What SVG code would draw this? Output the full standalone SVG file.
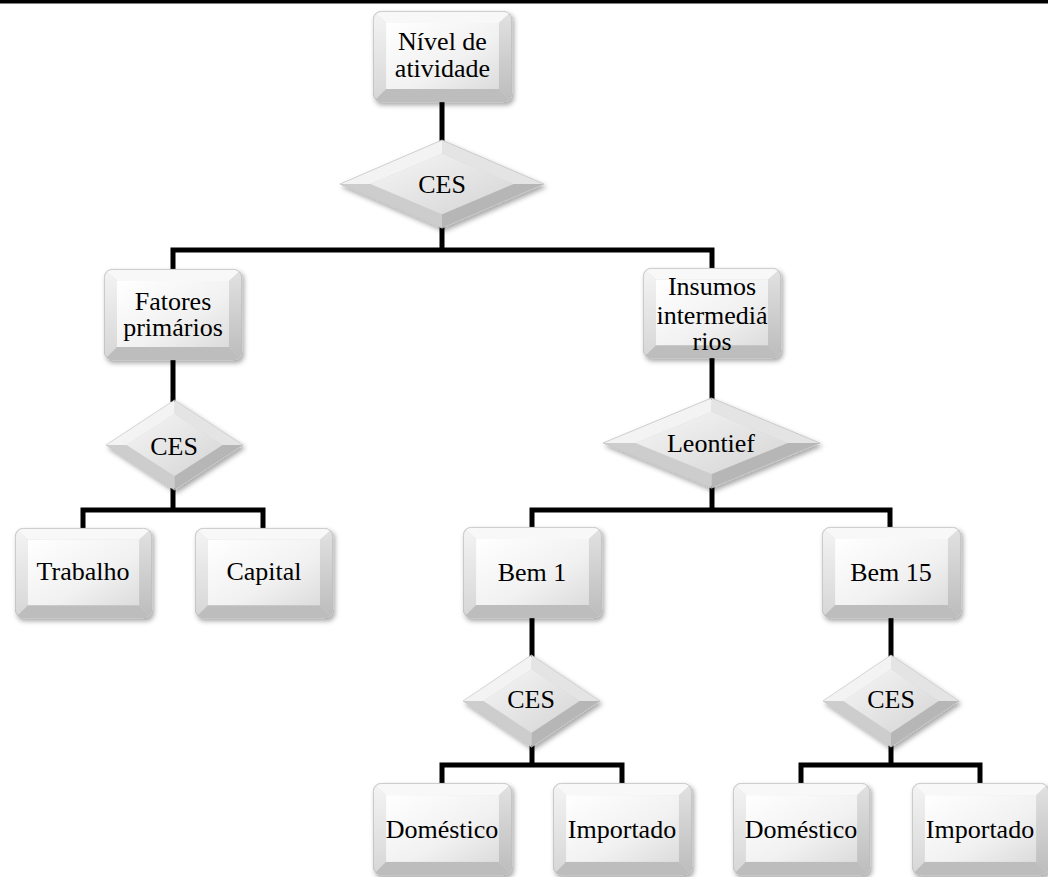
<svg xmlns="http://www.w3.org/2000/svg" xmlns:xlink="http://www.w3.org/1999/xlink" width="1048" height="877" viewBox="0 0 1048 877">
  <style>
    .lbl { font-family: "Liberation Serif", "Times New Roman", serif; font-size: 26px; fill: #000; text-anchor: middle; }
    .conn { fill: none; stroke: #000; stroke-width: 5; stroke-linejoin: miter; }
  </style>
  <defs>
    <filter id="shadow" x="-10%" y="-10%" width="125%" height="130%">
      <feDropShadow dx="2" dy="3" stdDeviation="2.5" flood-color="#000" flood-opacity="0.35"/>
    </filter>
    <linearGradient id="faceGrad" x1="0" y1="0" x2="1" y2="1">
      <stop offset="0" stop-color="#ffffff"/>
      <stop offset="0.6" stop-color="#f1f1f1"/>
      <stop offset="1" stop-color="#dcdcdc"/>
    </linearGradient>
    <linearGradient id="rightGrad" x1="0" y1="0" x2="0" y2="1">
      <stop offset="0" stop-color="#e2e2e2"/>
      <stop offset="1" stop-color="#bcbcbc"/>
    </linearGradient>
    <linearGradient id="leftGrad" x1="0" y1="0" x2="0" y2="1">
      <stop offset="0" stop-color="#f4f4f4"/>
      <stop offset="1" stop-color="#d6d6d6"/>
    </linearGradient>
    <linearGradient id="dFace" x1="0" y1="0" x2="1" y2="1">
      <stop offset="0" stop-color="#f6f6f6"/>
      <stop offset="1" stop-color="#d4d4d4"/>
    </linearGradient>
    <clipPath id="boxClip">
      <rect x="0" y="0" width="138" height="91" rx="8" ry="8"/>
    </clipPath>
    <!-- bevelled button box -->
    <symbol id="box" viewBox="0 0 138 91" preserveAspectRatio="none" overflow="visible">
      <g clip-path="url(#boxClip)">
        <rect x="0" y="0" width="138" height="91" fill="#d8d8d8"/>
        <polygon points="0,0 138,0 125,12 13,12" fill="#f8f8f8"/>
        <polygon points="0,0 13,12 13,78 0,91" fill="url(#leftGrad)"/>
        <polygon points="138,0 138,91 125,78 125,12" fill="url(#rightGrad)"/>
        <polygon points="0,91 13,78 125,78 138,91" fill="#bdbdbd"/>
        <rect x="13" y="12" width="112" height="66" fill="url(#faceGrad)"/>
      </g>
      <rect x="0.4" y="0.4" width="137.2" height="90.2" rx="8" ry="8" fill="none" stroke="#bdbdbd" stroke-width="0.8"/>
    </symbol>
    <!-- bevelled diamond -->
    <symbol id="diamond" viewBox="0 0 200 90" preserveAspectRatio="none" overflow="visible">
      <polygon points="0,45 100,0 100,14 30,45" fill="#f3f3f3"/>
      <polygon points="100,0 200,45 170,45 100,14" fill="#e4e4e4"/>
      <polygon points="200,45 100,90 100,76 170,45" fill="#b6b6b6"/>
      <polygon points="100,90 0,45 30,45 100,76" fill="#cdcdcd"/>
      <polygon points="30,45 100,14 170,45 100,76" fill="url(#dFace)"/>
      <polygon points="0,45 100,0 200,45 100,90" fill="none" stroke="#c4c4c4" stroke-width="0.8"/>
    </symbol>
  </defs>

  <rect width="1048" height="877" fill="#ffffff"/>
  <!-- rule across the top -->
  <rect x="0" y="0" width="1048" height="3.5" fill="#000"/>

  <g id="connectors">
    <path class="conn" d="M442,100 V142"/>
    <path class="conn" d="M442,226 V250"/>
    <path class="conn" d="M173,271 V250 H712 V271"/>
    <path class="conn" d="M173,358 V402"/>
    <path class="conn" d="M173,488 V510"/>
    <path class="conn" d="M83,530 V510 H263 V530"/>
    <path class="conn" d="M712,356 V400"/>
    <path class="conn" d="M712,486 V510"/>
    <path class="conn" d="M532,529 V510 H890 V529"/>
    <path class="conn" d="M532,616 V657"/>
    <path class="conn" d="M532,745 V765"/>
    <path class="conn" d="M442,785 V765 H622 V785"/>
    <path class="conn" d="M891,616 V657"/>
    <path class="conn" d="M891,745 V765"/>
    <path class="conn" d="M801,785 V765 H980 V785"/>
  </g>

  <g id="nivel-atividade">
    <use href="#box" x="373" y="11" width="139" height="91" filter="url(#shadow)"/>
    <text class="lbl" x="442.5" y="50">Nível de</text>
    <text class="lbl" x="442.5" y="77">atividade</text>
  </g>

  <g id="ces-top">
    <use href="#diamond" x="340" y="140" width="204" height="88" filter="url(#shadow)"/>
    <text class="lbl" x="442" y="193">CES</text>
  </g>

  <g id="fatores-primarios">
    <use href="#box" x="104" y="269" width="138" height="91" filter="url(#shadow)"/>
    <text class="lbl" x="173" y="310">Fatores</text>
    <text class="lbl" x="173" y="336">primários</text>
  </g>

  <g id="insumos-intermediarios">
    <use href="#box" x="643" y="268" width="138" height="90" filter="url(#shadow)"/>
    <text class="lbl" x="712" y="295">Insumos</text>
    <text class="lbl" x="712" y="324">intermediá</text>
    <text class="lbl" x="712" y="350">rios</text>
  </g>

  <g id="ces-fatores">
    <use href="#diamond" x="106" y="400" width="137" height="90" filter="url(#shadow)"/>
    <text class="lbl" x="174" y="455">CES</text>
  </g>

  <g id="leontief">
    <use href="#diamond" x="603" y="398" width="217" height="90" filter="url(#shadow)"/>
    <text class="lbl" x="711" y="452">Leontief</text>
  </g>

  <g id="trabalho">
    <use href="#box" x="15" y="528" width="137" height="90" filter="url(#shadow)"/>
    <text class="lbl" x="83" y="580">Trabalho</text>
  </g>

  <g id="capital">
    <use href="#box" x="195" y="528" width="138" height="90" filter="url(#shadow)"/>
    <text class="lbl" x="264" y="580">Capital</text>
  </g>

  <g id="bem-1">
    <use href="#box" x="463" y="527" width="139" height="91" filter="url(#shadow)"/>
    <text class="lbl" x="532" y="581">Bem 1</text>
  </g>

  <g id="bem-15">
    <use href="#box" x="822" y="527" width="139" height="91" filter="url(#shadow)"/>
    <text class="lbl" x="891" y="581">Bem 15</text>
  </g>

  <g id="ces-bem-1">
    <use href="#diamond" x="463" y="655" width="137" height="92" filter="url(#shadow)"/>
    <text class="lbl" x="531" y="708">CES</text>
  </g>

  <g id="ces-bem-15">
    <use href="#diamond" x="823" y="655" width="136" height="92" filter="url(#shadow)"/>
    <text class="lbl" x="891" y="708">CES</text>
  </g>

  <g id="domestico-1">
    <use href="#box" x="373" y="783" width="139" height="92" filter="url(#shadow)"/>
    <text class="lbl" x="442" y="838">Doméstico</text>
  </g>

  <g id="importado-1">
    <use href="#box" x="553" y="783" width="139" height="92" filter="url(#shadow)"/>
    <text class="lbl" x="622" y="838">Importado</text>
  </g>

  <g id="domestico-15">
    <use href="#box" x="733" y="783" width="137" height="92" filter="url(#shadow)"/>
    <text class="lbl" x="801" y="838">Doméstico</text>
  </g>

  <g id="importado-15">
    <use href="#box" x="912" y="783" width="137" height="92" filter="url(#shadow)"/>
    <text class="lbl" x="980" y="838">Importado</text>
  </g>
</svg>
